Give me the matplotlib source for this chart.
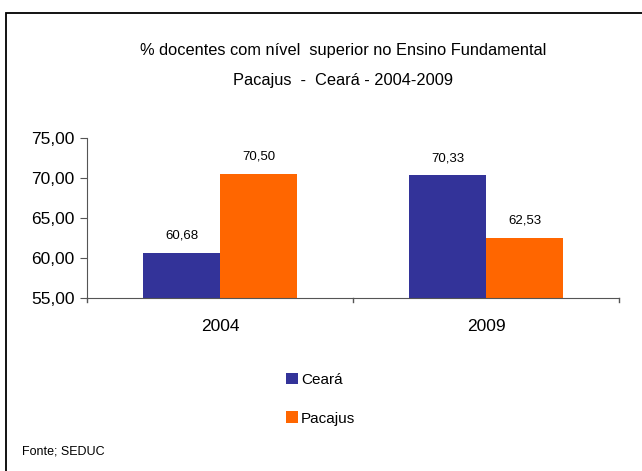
import matplotlib
matplotlib.use("Agg")
import matplotlib.pyplot as plt
from matplotlib.patches import Rectangle
import numpy as np

categories = ["2004", "2009"]
series_names = ["Ceará", "Pacajus"]
ceara = [60.68, 70.33]
pacajus = [70.50, 62.53]
colors = ["#333399", "#FF6600"]
yticks = [55, 60, 65, 70, 75]

plt.rcParams['font.family'] = ['Liberation Sans', 'DejaVu Sans']

W, H = 642, 471
fig = plt.figure(figsize=(W/100, H/100), dpi=100)

# outer frame
fig.add_artist(Rectangle((6/W, -0.1), 1.2, 1 - 13/H + 0.1, transform=fig.transFigure,
                         fill=False, edgecolor="black", linewidth=1.3))

ax = fig.add_axes([87/W, 1 - 298/H, (619-87)/W, (298-138)/H])
x = np.arange(len(categories))
bw = 77/266
b1 = ax.bar(x - bw/2, ceara, bw, color=colors[0], label=series_names[0], zorder=2)
b2 = ax.bar(x + bw/2, pacajus, bw, color=colors[1], label=series_names[1], zorder=2)

def fmt(v):
    return f"{v:.2f}".replace(".", ",")

for bars, vals in ((b1, ceara), (b2, pacajus)):
    for r, v in zip(bars, vals):
        ax.annotate(fmt(v), (r.get_x() + r.get_width()/2, v), xytext=(0, 8),
                    textcoords="offset points", ha="center", va="bottom", fontsize=9.5)

ax.set_ylim(55, 75)
ax.set_xlim(-0.5, 1.5)
ax.set_yticks(yticks)
ax.set_yticklabels([fmt(v) for v in yticks], fontsize=12.5)
ax.set_xticks(x)
ax.set_xticklabels(categories, fontsize=12.5)
ax.tick_params(axis='x', length=0, pad=15)
ax.tick_params(axis='y', length=5, pad=4, color="#555555")
for xb in [-0.5, 0.5, 1.5]:
    ax.plot([xb, xb], [55, 54.5], color="#555555", lw=1, clip_on=False)
ax.spines['top'].set_visible(False)
ax.spines['right'].set_visible(False)
ax.spines['left'].set_color("#555555")
ax.spines['bottom'].set_color("#555555")

fig.text(343/W, 1 - 50/H, "% docentes com nível  superior no Ensino Fundamental",
         ha="center", va="center", fontsize=11.8)
fig.text(343/W, 1 - 80/H, "Pacajus  -  Ceará - 2004-2009",
         ha="center", va="center", fontsize=11.8)

leg = fig.legend(handles=[b1, b2], labels=series_names, loc="upper left",
                 bbox_to_anchor=(272/W, 1 - 359/H), frameon=False, fontsize=11,
                 handlelength=0.8, handleheight=0.8, handletextpad=0.2, labelspacing=1.6)

fig.text(22/W, 1 - 452/H, "Fonte; SEDUC", ha="left", va="center", fontsize=9)

fig.savefig("out.png", dpi=100)
